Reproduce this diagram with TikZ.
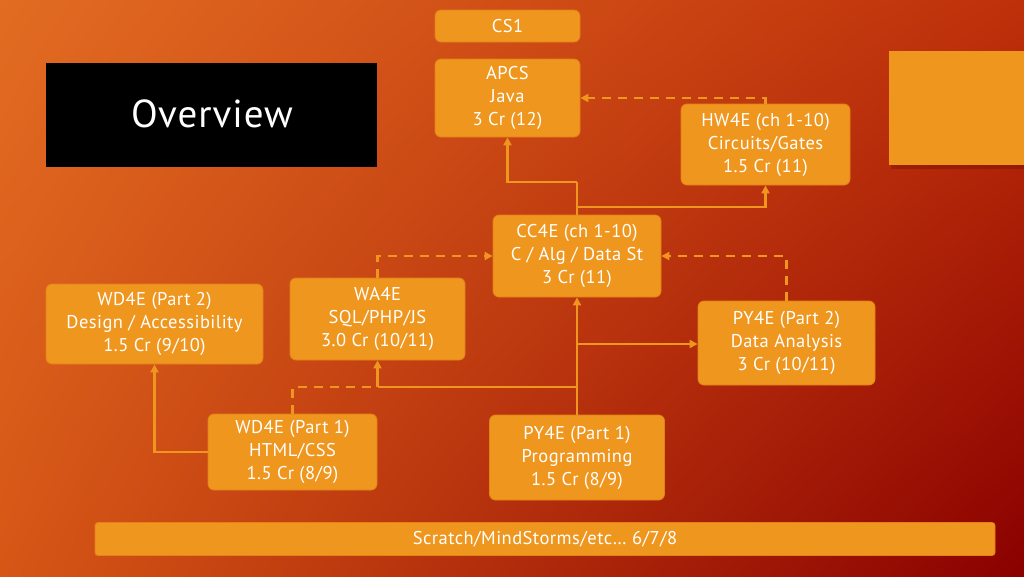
\documentclass[tikz,border=0pt]{standalone}
\usepackage{fontspec}
\setmainfont{PT Sans}[LetterSpace=2.5]
\usetikzlibrary{arrows.meta,shadows,shadings}
\definecolor{boxfill}{RGB}{239,150,30}
\definecolor{boxedge}{RGB}{226,130,24}
\definecolor{bgUL}{RGB}{226,108,34}
\definecolor{bgUR}{RGB}{190,48,10}
\definecolor{bgLL}{RGB}{214,86,22}
\definecolor{bgLR}{RGB}{138,0,0}
\tikzset{
  box/.style={draw=boxedge, line width=0.8pt, fill=boxfill, rounded corners=6pt,
    text=white, align=center, inner sep=0pt, font=\fontsize{18.5}{23}\selectfont},
  conn/.style={draw=boxfill, line width=2.8pt, -{Triangle[length=8pt,width=8pt]}},
  dconn/.style={conn, dash pattern=on 9pt off 7pt},
  plain/.style={draw=boxfill, line width=2.8pt},
  dplain/.style={plain, dash pattern=on 9pt off 7pt}
}
\begin{document}
\begin{tikzpicture}[x=1pt,y=-1pt]
\useasboundingbox (0,0) rectangle (1024,576);
\shade[upper left=bgUL, upper right=bgUR, lower left=bgLL, lower right=bgLR] (0,0) rectangle (1024,576);

% title box
\node[fill=black, minimum width=331pt, minimum height=104pt, inner sep=0pt] (ovbox) at (211.5,115) {};
\node[text=white, font=\fontsize{39}{44}\selectfont] (ov) at (212,114) {Overview};

% decorative square
\node[fill=boxfill, minimum width=136pt, minimum height=114pt, inner sep=0pt,
  drop shadow={opacity=0.25, fill=black!70!red, shadow xshift=2pt, shadow yshift=-4pt}] (sq) at (957,108) {};

% course boxes
\node[box, minimum width=145pt, minimum height=32pt] (cs1) at (507.5,26) {CS1};
\node[box, minimum width=145pt, minimum height=78pt] (apcs) at (507.5,98) {APCS\\Java\\3 Cr (12)};
\node[box, minimum width=169pt, minimum height=81pt] (hw) at (765.5,144.5) {HW4E (ch 1-10)\\Circuits/Gates\\1.5 Cr (11)};
\node[box, minimum width=168pt, minimum height=82pt] (cc) at (577,256) {CC4E (ch 1-10)\\C / Alg / Data St\\3 Cr (11)};
\node[box, minimum width=175pt, minimum height=82pt] (wa) at (377.5,319) {WA4E\\SQL/PHP/JS\\3.0 Cr (10/11)};
\node[box, minimum width=217pt, minimum height=80pt] (wd2) at (154.5,324) {WD4E (Part 2)\\Design / Accessibility\\1.5 Cr (9/10)};
\node[box, minimum width=177pt, minimum height=84pt] (py2) at (786.5,343) {PY4E (Part 2)\\Data Analysis\\3 Cr (10/11)};
\node[box, minimum width=169pt, minimum height=76pt] (wd1) at (292.5,452) {WD4E (Part 1)\\HTML/CSS\\1.5 Cr (8/9)};
\node[box, minimum width=175pt, minimum height=85pt] (py1) at (577,457.5) {PY4E (Part 1)\\Programming\\1.5 Cr (8/9)};
\node[box, rounded corners=3pt, minimum width=900pt, minimum height=33pt] (bar) at (545,539) {Scratch/MindStorms/etc… 6/7/8};

% junctions
\coordinate (j1) at (577,182);
\coordinate (j2) at (577,207);
\coordinate (j3) at (577,344);
\coordinate (j4) at (577,387);
\coordinate (j5) at (377.5,387);

% solid connectors
\draw[plain] (cc.north) -- (j1);
\draw[conn] (j1) -| (apcs.south);
\draw[conn] (j2) -| (hw.south);
\draw[conn] (py1.north) -- (cc.south);
\draw[conn] (j3) -- (py2.west |- j3);
\draw[plain] (j4) -- (j5);
\draw[conn] (j5) -- (wa.south);
\draw[conn] (wd1.west) -| (wd2.south);

% dashed connectors
\draw[dconn] (hw.north) |- (apcs.east);
\draw[dconn] (wa.north) |- (cc.west);
\draw[dconn] (py2.north) |- (cc.east);
\draw[dplain] (wd1.north) |- (j5);
\end{tikzpicture}
\end{document}
